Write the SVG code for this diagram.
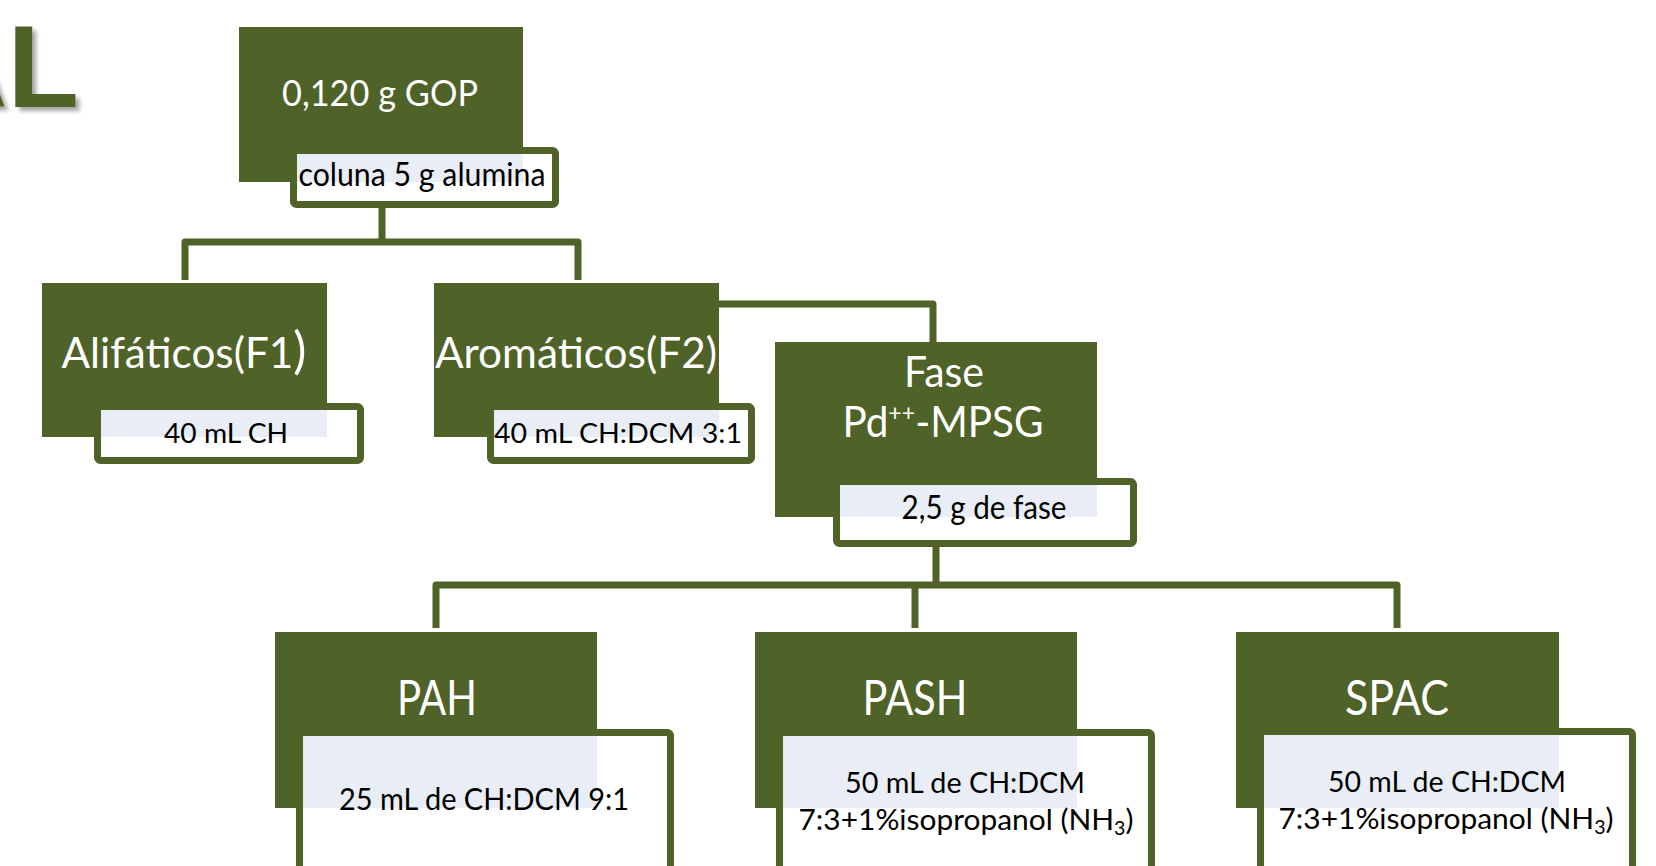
<svg xmlns="http://www.w3.org/2000/svg" width="1656" height="866" viewBox="0 0 1656 866">
<defs>
<filter id="sh" x="-20%" y="-20%" width="150%" height="150%">
<feDropShadow dx="4" dy="4" stdDeviation="2" flood-color="#000" flood-opacity="0.35"/>
</filter>
</defs>
<style>
.box{fill:#4F6228}
.lab{fill:#ffffff;stroke:#4F6228;stroke-width:7}
.tint{fill:#E9EEF6}
.con{fill:none;stroke:#4F6228;stroke-width:7;stroke-linejoin:round}
.wt{fill:#ffffff;font-family:Lato,"Open Sans",sans-serif;text-anchor:middle}
.bt{fill:#000000;font-family:Lato,"Open Sans",sans-serif;text-anchor:middle}
.title{fill:#4F6228;font-family:"Liberation Sans",Arial,sans-serif;font-weight:bold;text-anchor:end}
</style>
<rect width="1656" height="866" fill="#ffffff"/>
<text class="title" x="79" y="107" font-size="117" filter="url(#sh)">AL</text>

<g id="connectors">
<path class="con" d="M382,205 V242"/>
<path class="con" d="M185,280 V242 H578 V280"/>
<path class="con" d="M700,304 H933 V345"/>
<path class="con" d="M936,544 V585"/>
<path class="con" d="M436,628 V585 H1397 V628"/>
<path class="con" d="M915,585 V628"/>
</g>

<g id="n-gop">
<rect class="box" x="239" y="27" width="284" height="155"/>
<text class="wt" x="380" y="106" font-size="36" textLength="196" lengthAdjust="spacingAndGlyphs">0,120 g GOP</text>
<rect class="lab" x="293.5" y="150.5" width="262" height="54" rx="3"/>
<rect class="tint" x="297" y="154" width="226" height="28"/>
<text class="bt" x="422" y="186" font-size="32" textLength="247" lengthAdjust="spacingAndGlyphs">coluna 5 g alumina</text>
</g>

<g id="n-alif">
<rect class="box" x="42" y="283" width="285" height="154"/>
<text class="wt" x="184" y="368" font-size="43" textLength="245" lengthAdjust="spacingAndGlyphs">Alifáticos(F1<tspan font-size="50">)</tspan></text>
<rect class="lab" x="97.5" y="406.5" width="263" height="54" rx="3"/>
<rect class="tint" x="101" y="410" width="226" height="27"/>
<text class="bt" x="226" y="443" font-size="27" textLength="124" lengthAdjust="spacingAndGlyphs">40 mL CH</text>
</g>

<g id="n-arom">
<rect class="box" x="434" y="283" width="285" height="154"/>
<text class="wt" x="576" y="368" font-size="43" textLength="282" lengthAdjust="spacingAndGlyphs">Aromáticos(F2)</text>
<rect class="lab" x="490.5" y="406.5" width="261" height="54" rx="3"/>
<rect class="tint" x="494" y="410" width="225" height="27"/>
<text class="bt" x="618" y="443" font-size="27" textLength="248" lengthAdjust="spacingAndGlyphs">40 mL CH:DCM 3:1</text>
</g>

<g id="n-fase">
<rect class="box" x="775" y="342" width="322" height="175"/>
<text class="wt" x="944" y="387" font-size="42" textLength="80" lengthAdjust="spacingAndGlyphs">Fase</text>
<text class="wt" x="943" y="437" font-size="42" textLength="201" lengthAdjust="spacingAndGlyphs">Pd<tspan font-size="24" dy="-16">++</tspan><tspan dy="16">-MPSG</tspan></text>
<rect class="lab" x="836.5" y="481.5" width="297" height="62" rx="3"/>
<rect class="tint" x="840" y="485" width="257" height="32"/>
<text class="bt" x="984" y="519" font-size="32" textLength="165" lengthAdjust="spacingAndGlyphs">2,5 g de fase</text>
</g>

<g id="n-pah">
<rect class="box" x="275" y="632" width="322" height="176"/>
<text class="wt" x="437" y="715" font-size="49" textLength="80" lengthAdjust="spacingAndGlyphs">PAH</text>
<rect class="lab" x="299.5" y="732.5" width="371" height="200" rx="3"/>
<rect class="tint" x="303" y="736" width="294" height="72"/>
<text class="bt" x="484" y="810" font-size="31" textLength="290" lengthAdjust="spacingAndGlyphs">25 mL de CH:DCM 9:1</text>
</g>

<g id="n-pash">
<rect class="box" x="755" y="632" width="322" height="176"/>
<text class="wt" x="915" y="715" font-size="49" textLength="105" lengthAdjust="spacingAndGlyphs">PASH</text>
<rect class="lab" x="779.5" y="732.5" width="372" height="200" rx="3"/>
<rect class="tint" x="783" y="736" width="294" height="72"/>
<text class="bt" x="965" y="793" font-size="29" textLength="240" lengthAdjust="spacingAndGlyphs">50 mL de CH:DCM</text>
<text class="bt" x="966" y="830" font-size="29" textLength="335" lengthAdjust="spacingAndGlyphs">7:3+1%isopropanol (NH<tspan font-size="19" dy="5">3</tspan><tspan dy="-5">)</tspan></text>
</g>

<g id="n-spac">
<rect class="box" x="1236" y="632" width="323" height="176"/>
<text class="wt" x="1397" y="715" font-size="49" textLength="104" lengthAdjust="spacingAndGlyphs">SPAC</text>
<rect class="lab" x="1260.5" y="731.5" width="372" height="200" rx="3"/>
<rect class="tint" x="1264" y="735" width="295" height="73"/>
<text class="bt" x="1447" y="792" font-size="29" textLength="238" lengthAdjust="spacingAndGlyphs">50 mL de CH:DCM</text>
<text class="bt" x="1446" y="829" font-size="29" textLength="335" lengthAdjust="spacingAndGlyphs">7:3+1%isopropanol (NH<tspan font-size="19" dy="5">3</tspan><tspan dy="-5">)</tspan></text>
</g>
</svg>
